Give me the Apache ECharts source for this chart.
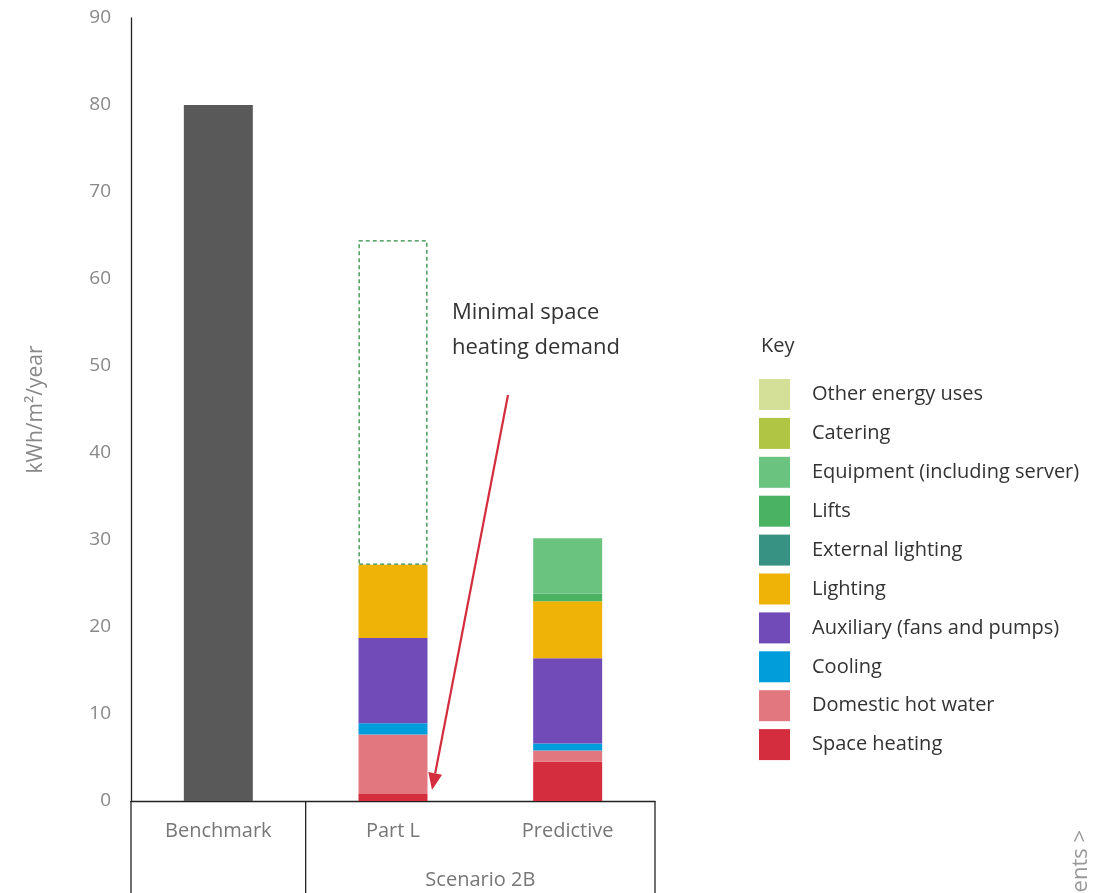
<!DOCTYPE html>
<html>
<head>
<meta charset="utf-8">
<script src="https://cdn.jsdelivr.net/npm/echarts@6/dist/echarts.min.js"></script>
<style>
html, body { margin: 0; padding: 0; background: #fff; }
#main { width: 1096px; height: 893px; }
</style>
</head>
<body>
<div id="main"></div>
<script>
// categories + values (kWh/m2/year)
var categories = ['Benchmark', 'Part L', 'Predictive'];
var yTicks = [0, 10, 20, 30, 40, 50, 60, 70, 80, 90];
var benchmark = [80, '-', '-'];
var spaceHeating = ['-', 0.8, 4.5];
var hotWater = ['-', 6.85, 1.3];
var cooling = ['-', 1.3, 0.8];
var auxiliary = ['-', 9.8, 9.8];
var lighting = ['-', 8.4, 6.55];
var externalLighting = ['-', '-', '-'];
var lifts = ['-', '-', 0.9];
var equipment = ['-', '-', 6.35];
var catering = ['-', '-', '-'];
var otherUses = ['-', '-', '-'];
var partLHeadroom = ['-', 37.3, '-']; // dashed box, 27.1 -> 64.4

var fontFam = '"Open Sans", "Noto Sans", sans-serif';

//stacked bar helper
function stackBar(name, data, color) {
    return {
        name: name,
        type: 'bar',
        stack: 'total',
        barWidth: 69,
        data: data,
        itemStyle: {color: color},
        emphasis: {disabled: true}
    };
}

var series = [
    stackBar('Benchmark', benchmark, '#595959'),
    stackBar('Space heating', spaceHeating, '#d32d3e'),
    stackBar('Domestic hot water', hotWater, '#e27780'),
    stackBar('Cooling', cooling, '#009ddb'),
    stackBar('Auxiliary (fans and pumps)', auxiliary, '#714bb8'),
    stackBar('Lighting', lighting, '#efb207'),
    stackBar('External lighting', externalLighting, '#379283'),
    stackBar('Lifts', lifts, '#4ab263'),
    stackBar('Equipment (including server)', equipment, '#6bc380'),
    stackBar('Catering', catering, '#b1c545'),
    stackBar('Other energy uses', otherUses, '#d4df97')
];
var gap = stackBar('headroom', partLHeadroom, 'rgba(0,0,0,0)');
gap.itemStyle = {color: 'rgba(0,0,0,0)', borderColor: '#2e8b3e', borderWidth: 1.3, borderType: [4, 3]};
series.push(gap);

var legendNames = ['Other energy uses', 'Catering', 'Equipment (including server)', 'Lifts',
    'External lighting', 'Lighting', 'Auxiliary (fans and pumps)', 'Cooling',
    'Domestic hot water', 'Space heating'];

var chart = echarts.init(document.getElementById('main'), null, {renderer: 'canvas'});
var option = {
    animation: false,
    backgroundColor: '#fff',
    textStyle: {fontFamily: fontFam},
    title: {
        text: 'Key',
        left: 756,
        top: 331,
        textStyle: {fontSize: 20, fontWeight: 'normal', color: '#333', fontFamily: fontFam}
    },
    legend: {
        data: legendNames,
        orient: 'vertical',
        left: 759,
        top: 379,
        padding: 0,
        icon: 'rect',
        itemWidth: 31,
        itemHeight: 31,
        itemGap: 7.9,
        selectedMode: false,
        textStyle: {fontSize: 20, color: '#333', padding: [0, 0, 0, 17], fontFamily: fontFam}
    },
    grid: {left: 131, right: 441, top: 18, bottom: 92},
    xAxis: {
        type: 'category',
        data: categories,
        axisLine: {lineStyle: {color: '#222', width: 1.3}},
        axisTick: {show: false},
        axisLabel: {fontSize: 20, color: '#777', margin: 20, fontFamily: fontFam}
    },
    yAxis: {
        type: 'value',
        min: yTicks[0],
        max: yTicks[yTicks.length - 1],
        interval: 10,
        name: 'kWh/m\u00B2/year',
        nameLocation: 'middle',
        nameGap: 84,
        nameTextStyle: {fontSize: 21, color: '#888', fontFamily: fontFam},
        axisLine: {show: true, lineStyle: {color: '#222', width: 1.3}},
        axisTick: {show: false},
        splitLine: {show: false},
        axisLabel: {fontSize: 19, color: '#888', margin: 20, fontFamily: fontFam}
    },
    series: series
};
chart.setOption(option);

// separators below the axis, group label, annotation
var c0 = chart.convertToPixel({xAxisIndex: 0}, categories[0]);
var c1 = chart.convertToPixel({xAxisIndex: 0}, categories[1]);
var c2 = chart.convertToPixel({xAxisIndex: 0}, categories[2]);
var half = (c1 - c0) / 2;
var y0 = chart.convertToPixel({yAxisIndex: 0}, 0);
var bottom = 893;
var lineStyle = {stroke: '#222', lineWidth: 1.3};

var ax = 508, ay = 395, bx = 432, by = 790;
var dx = bx - ax, dy = by - ay, len = Math.sqrt(dx * dx + dy * dy);
var ux = dx / len, uy = dy / len, hl = 17, hw = 7;
var baseX = bx - ux * hl, baseY = by - uy * hl;

chart.setOption({
    graphic: [
        {type: 'line', shape: {x1: c0 - half, y1: y0, x2: c0 - half, y2: bottom}, style: lineStyle},
        {type: 'line', shape: {x1: c0 + half, y1: y0, x2: c0 + half, y2: bottom}, style: lineStyle},
        {type: 'line', shape: {x1: c2 + half, y1: y0, x2: c2 + half, y2: bottom}, style: lineStyle},
        {
            type: 'text', x: (c1 + c2) / 2, y: 880,
            style: {text: 'Scenario 2B', fontSize: 20, fill: '#777', align: 'center', verticalAlign: 'middle', fontFamily: fontFam}
        },
        {
            type: 'text', x: 452, y: 295,
            style: {text: 'Minimal space\nheating demand', fontSize: 22, lineHeight: 35, fill: '#333', fontFamily: fontFam}
        },
        {type: 'line', shape: {x1: ax, y1: ay, x2: baseX, y2: baseY}, style: {stroke: '#d32d3e', lineWidth: 2.2}},
        {
            type: 'polygon',
            shape: {points: [[bx, by], [baseX - uy * hw, baseY + ux * hw], [baseX + uy * hw, baseY - ux * hw]]},
            style: {fill: '#d32d3e'}
        },
        {
            type: 'text', x: 1081, y: 830, rotation: Math.PI / 2,
            style: {text: 'ents >', fontSize: 22, fill: '#999', align: 'right', verticalAlign: 'middle', fontFamily: fontFam}
        }
    ]
});
</script>
</body>
</html>
